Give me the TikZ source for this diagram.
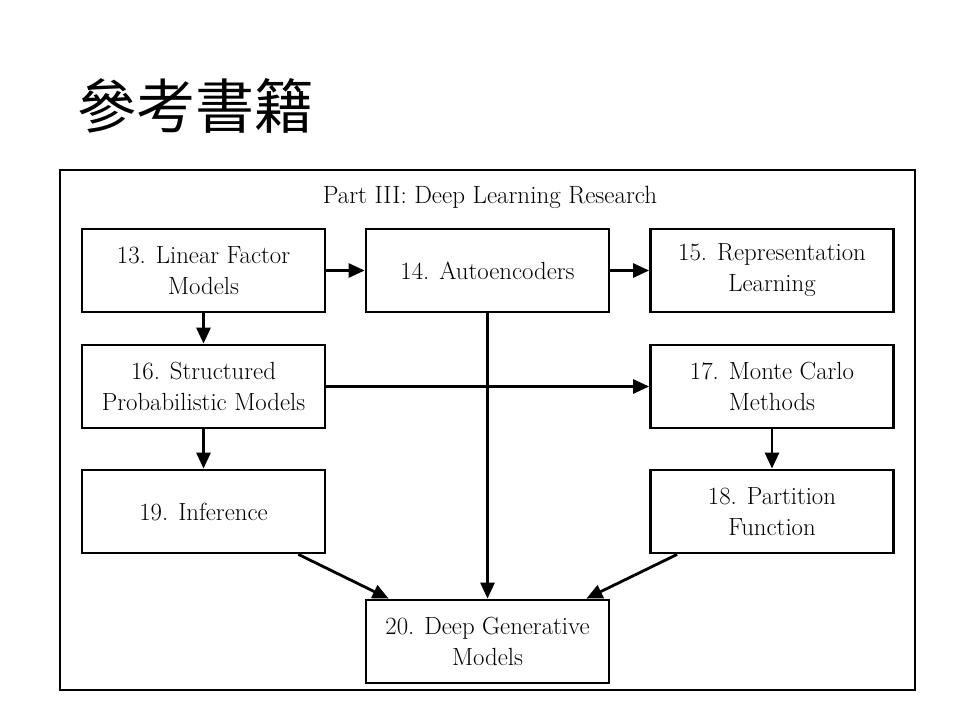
\documentclass[tikz,border=0pt]{standalone}
\usepackage{fontspec}
\newfontfamily\cjk{Noto Sans CJK TC}
\usetikzlibrary{arrows.meta}
\begin{document}
\begin{tikzpicture}[x=1pt,y=-1pt,
  chapbox/.style={draw,line width=2.8pt,minimum width=243pt,minimum height=83pt,
    align=center,inner sep=0pt,font=\fontsize{24.8}{31}\selectfont},
  link/.style={line width=2.8pt,-{Triangle[length=16pt,width=14pt]}}]
\useasboundingbox (0,0) rectangle (960,720);
\node[font=\cjk\fontsize{59}{66}\selectfont,anchor=west] (title) at (74,106) {參考書籍};
\node[draw,line width=2.2pt,minimum width=855pt,minimum height=520pt,inner sep=0pt] (frame) at (487.5,430) {};
\node[font=\fontsize{25}{30}\selectfont] (part) at (490,197) {Part III: Deep Learning Research};
\node[chapbox] (c13) at (203.5,270.5) {13. Linear Factor\\Models};
\node[chapbox] (c14) at (487.5,270.5) {14. Autoencoders};
\node[chapbox] (c15) at (772,270.5) {15. Representation\\Learning};
\node[chapbox] (c16) at (203.5,386.5) {16. Structured\\Probabilistic Models};
\node[chapbox] (c17) at (772,386.5) {17. Monte Carlo\\Methods};
\node[chapbox] (c19) at (203.5,511.5) {19. Inference};
\node[chapbox] (c18) at (772,511.5) {18. Partition\\Function};
\node[chapbox] (c20) at (487.5,641.5) {20. Deep Generative\\Models};
\draw[link] (c13) -- (c14);
\draw[link] (c14) -- (c15);
\draw[link] (c13) -- (c16);
\draw[link] (c16) -- (c17);
\draw[link] (c16) -- (c19);
\draw[link] (c17) -- (c18);
\draw[link] (c14) -- (c20);
\draw[link] (c19.south east) ++(-28,0) coordinate (a19) (a19) -- ([xshift=24pt]c20.north west);
\draw[link] (c18.south west) ++(28,0) coordinate (a18) (a18) -- ([xshift=-24pt]c20.north east);
\end{tikzpicture}
\end{document}
